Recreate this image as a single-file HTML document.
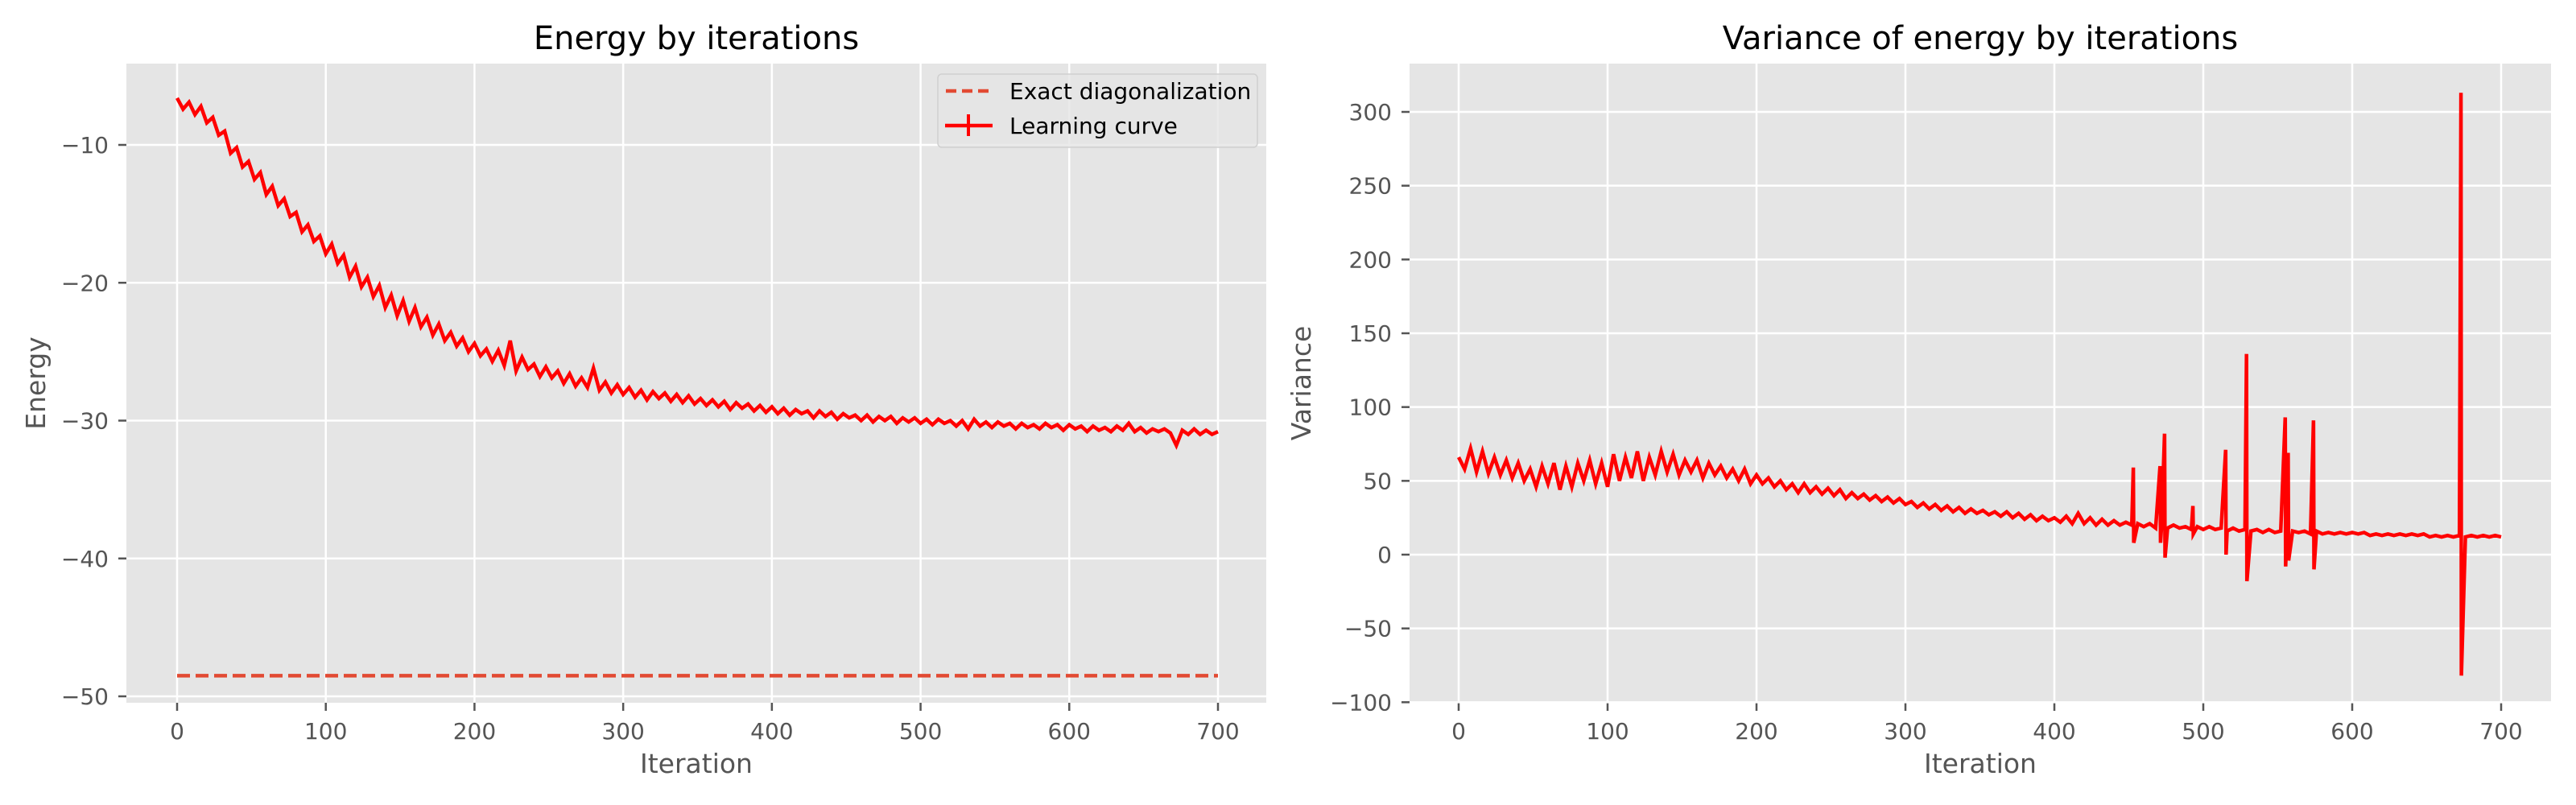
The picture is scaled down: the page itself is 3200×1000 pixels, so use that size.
<!DOCTYPE html>
<html><head><meta charset="utf-8">
<style>
html,body{margin:0;padding:0;background:#fff;}
svg{display:block;font-family:"DejaVu Sans","Liberation Sans",sans-serif;}
</style></head>
<body>
<svg id="fig" width="3200" height="1000" viewBox="0 0 3200 1000" xmlns="http://www.w3.org/2000/svg">
<rect width="3200" height="1000" fill="#fff"/>
<g id="left"></g>
<g id="right"></g>
</svg>
<script>
const energyIters = [];
for (let i = 0; i <= 700; i += 4) energyIters.push(i);
const energyValues = [-6.6,-7.4,-6.9,-7.8,-7.2,-8.4,-8.0,-9.3,-9.0,-10.6,-10.2,-11.6,-11.2,-12.5,-12.0,-13.6,-13.0,-14.4,-13.9,-15.2,-14.9,-16.3,-15.8,-17.0,-16.6,-17.9,-17.2,-18.6,-18.0,-19.6,-18.8,-20.3,-19.6,-21.0,-20.2,-21.8,-20.9,-22.4,-21.3,-22.8,-21.8,-23.2,-22.5,-23.8,-23.0,-24.2,-23.6,-24.6,-24.0,-25.0,-24.4,-25.3,-24.8,-25.7,-24.9,-26.0,-24.2,-26.4,-25.4,-26.3,-25.9,-26.8,-26.1,-26.9,-26.4,-27.3,-26.6,-27.5,-26.9,-27.6,-26.2,-27.8,-27.2,-28.0,-27.4,-28.1,-27.6,-28.3,-27.8,-28.5,-27.9,-28.4,-28.0,-28.6,-28.1,-28.7,-28.2,-28.8,-28.4,-28.9,-28.5,-29.0,-28.6,-29.2,-28.7,-29.1,-28.8,-29.3,-28.9,-29.4,-29.0,-29.5,-29.1,-29.6,-29.2,-29.5,-29.3,-29.8,-29.3,-29.7,-29.4,-29.9,-29.5,-29.8,-29.6,-30.0,-29.6,-30.1,-29.7,-30.0,-29.7,-30.2,-29.8,-30.1,-29.8,-30.2,-29.9,-30.3,-29.9,-30.2,-30.0,-30.4,-30.0,-30.6,-29.9,-30.4,-30.1,-30.5,-30.1,-30.4,-30.2,-30.6,-30.2,-30.5,-30.3,-30.6,-30.2,-30.5,-30.3,-30.7,-30.3,-30.6,-30.4,-30.8,-30.4,-30.7,-30.5,-30.8,-30.4,-30.7,-30.2,-30.8,-30.5,-30.9,-30.6,-30.8,-30.6,-30.9,-31.8,-30.7,-31.0,-30.6,-31.0,-30.7,-31.0,-30.8];
const exactEnergy = -48.5;
const varianceValues = [66,58,72,56,70,55,66,54,64,52,62,50,58,46,60,48,62,44,60,46,62,50,64,48,62,46,68,50,66,52,70,50,66,54,70,56,68,54,64,56,64,52,62,54,60,52,58,50,58,48,54,48,52,46,50,44,48,42,48,42,46,41,45,40,44,38,42,38,41,37,40,36,39,35,38,34,36,32,35,31,34,30,33,29,32,28,31,28,30,27,29,26,29,25,28,24,27,23,26,23,25,22,26,21,28,21,25,20,24,20,23,20,22,20,21,19,21,18,20,18,20,18,19,17,19,17,19,17,18,16,18,16,17,16,17,15,17,15,16,15,16,15,16,14,16,14,15,14,15,14,15,14,15,13,14,13,14,13,14,13,14,13,14,12,13,12,13,12,13,12,13,12,13,12,13,12];
const spikeIters = [453,471,474,493,515,529,555,557,574,673];
const spikeHigh = [59,60,82,33,71,136,93,69,91,313];
const spikeLow = [8,8,-2,14,0,-18,-8,-4,-10,-82];
const xTicks = [0,100,200,300,400,500,600,700];
const energyTicks = [-50,-40,-30,-20,-10];
const varianceTicks = [-100,-50,0,50,100,150,200,250,300];

const NS = "http://www.w3.org/2000/svg";
function mk(parent, tag, attrs, text) {
  const e = document.createElementNS(NS, tag);
  for (const k in attrs) e.setAttribute(k, attrs[k]);
  if (text !== undefined) e.textContent = text;
  parent.appendChild(e);
  return e;
}
function fmt(v){ return v < 0 ? "\u2212" + Math.abs(v) : String(v); }

function drawAxes(g, box, xs, ys, yticks, title, ylabel, ylabelX) {
  const bg = mk(g, "rect", {x:box.l, y:box.t, width:box.r-box.l, height:box.b-box.t, fill:"#E5E5E5"});
  
  
  xTicks.forEach(v => {
    const x = xs(v);
    mk(g, "line", {x1:x, x2:x, y1:box.t, y2:box.b, stroke:"#fff", "stroke-width":2.5});
    mk(g, "line", {x1:x, x2:x, y1:box.b, y2:box.b+10, stroke:"#555", "stroke-width":2.5});
    const t = mk(g, "text", {x:x, y:box.b+45, "text-anchor":"middle", "font-size":28, fill:"#555"}, fmt(v));
    
    
  });
  yticks.forEach(v => {
    const y = ys(v);
    mk(g, "line", {x1:box.l, x2:box.r, y1:y, y2:y, stroke:"#fff", "stroke-width":2.5});
    mk(g, "line", {x1:box.l-10, x2:box.l, y1:y, y2:y, stroke:"#555", "stroke-width":2.5});
    const t = mk(g, "text", {x:box.l-22, y:y+10, "text-anchor":"end", "font-size":28, fill:"#555"}, fmt(v));
    
    
  });
  const cx = (box.l+box.r)/2;
  const tt = mk(g, "text", {x:cx, y:61, "text-anchor":"middle", "font-size":40, fill:"#000"}, title);
  
  
  const xl = mk(g, "text", {x:cx, y:960, "text-anchor":"middle", "font-size":33, fill:"#555"}, "Iteration");
  
  
  const cy = (box.t+box.b)/2;
  const yl = mk(g, "text", {x:ylabelX, y:cy, "text-anchor":"middle", "font-size":33, fill:"#555", transform:"rotate(-90 "+ylabelX+" "+cy+")"}, ylabel);
  
  
}

// Left chart
const L = {l:157, r:1573, t:79, b:873};
const lx = v => 220 + (v-0)*(1513-220)/700;
const ly = v => 180 + (-10 - v)*17.125;
const gL = document.getElementById("left");
drawAxes(gL, L, lx, ly, energyTicks, "Energy by iterations", "Energy", 56);
const ex = mk(gL, "line", {x1:lx(0), x2:lx(700), y1:ly(exactEnergy), y2:ly(exactEnergy), stroke:"#E24A33", "stroke-width":4.5, "stroke-dasharray":"16 7"});


const ep = mk(gL, "polyline", {points: energyIters.map((it,i)=>lx(it).toFixed(1)+","+ly(energyValues[i]).toFixed(1)).join(" "), fill:"none", stroke:"#FF0000", "stroke-width":4.5, "stroke-linejoin":"miter"});



// Legend
const leg = mk(gL, "g", {});


mk(leg, "rect", {x:1165, y:92, width:397, height:91, rx:5, fill:"#E5E5E5", "fill-opacity":0.8, stroke:"#D0D0D0", "stroke-width":1.5});
mk(leg, "line", {x1:1175, x2:1232, y1:113, y2:113, stroke:"#E24A33", "stroke-width":4.5, "stroke-dasharray":"13 7"});
const le1 = mk(leg, "text", {x:1254, y:123, "font-size":28, fill:"#000"}, "Exact diagonalization");


mk(leg, "line", {x1:1174, x2:1233, y1:156, y2:156, stroke:"#FF0000", "stroke-width":4.5});
mk(leg, "line", {x1:1203, x2:1203, y1:142, y2:169, stroke:"#FF0000", "stroke-width":4});
const le2 = mk(leg, "text", {x:1254, y:166, "font-size":28, fill:"#000"}, "Learning curve");



// Right chart
const R = {l:1751, r:3169, t:79, b:873};
const rx = v => 1812 + v*(3107-1812)/700;
const ry = v => 689 - v*1.8333;
const gR = document.getElementById("right");
drawAxes(gR, R, rx, ry, varianceTicks, "Variance of energy by iterations", "Variance", 1628);
const pts = energyIters.map((it,i)=>[it, varianceValues[i]]);
spikeIters.forEach((it,i)=>{ pts.push([it, spikeHigh[i]]); pts.push([it+0.3, spikeLow[i]]); });
pts.sort((a,b)=>a[0]-b[0]);
const vp = mk(gR, "polyline", {points: pts.map(p=>rx(p[0]).toFixed(1)+","+ry(p[1]).toFixed(1)).join(" "), fill:"none", stroke:"#FF0000", "stroke-width":4.5});


</script>
</body></html>
